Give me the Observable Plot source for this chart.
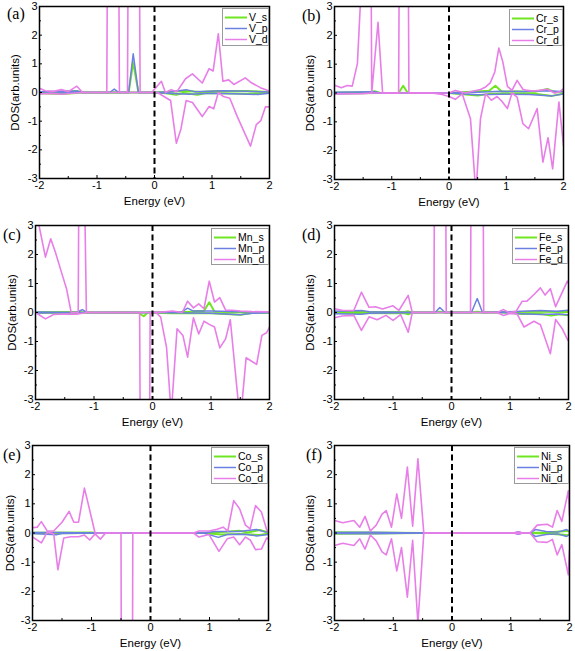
<!DOCTYPE html>
<html>
<head>
<meta charset="utf-8">
<script src="https://cdn.jsdelivr.net/npm/d3@7"></script>
<script src="https://cdn.jsdelivr.net/npm/@observablehq/plot@0.6"></script>
<style>
  html, body { margin: 0; padding: 0; background: #fff; }
  #wrap { position: relative; width: 575px; height: 651px; overflow: hidden; background: #fff; }
  .pnl { position: absolute; }
  .tag { position: absolute; font-family: "Liberation Serif", "Times New Roman", serif; font-size: 16px; color: #000; }
  .leg { position: absolute; box-sizing: border-box; border: 1px solid #9a9a9a; background: #fff;
         font-family: "Liberation Sans", Arial, sans-serif; font-size: 10.5px; color: #000; }
  .leg .row { position: absolute; left: 0; height: 11px; display: flex; align-items: center; white-space: nowrap; }
  .leg svg { display: block; }
  .leg span { margin-left: 1px; line-height: 11px; }
</style>
</head>
<body>
<div id="wrap"></div>
<script>
// ---------------- data (energy in eV, DOS in arb. units) ----------------
const xTicks = [-2, -1, 0, 1, 2];
const xMinor = [-1.5, -0.5, 0.5, 1.5];
const yTicks = [-3, -2, -1, 0, 1, 2, 3];
const yMinor = [-2.5, -1.5, -0.5, 0.5, 1.5, 2.5];
const panelTags = ["(a)", "(b)", "(c)", "(d)", "(e)", "(f)"];
const elements = ["V", "Cr", "Mn", "Fe", "Co", "Ni"];
const orbitals = ["s", "p", "d"];

// (a) V
const V_s_up = [[-2,0.02],[-1.6,0.03],[-1.35,0.05],[-1.25,0],[-0.45,0],[-0.37,1.05],[-0.28,0],[0,0],[0.55,0.05],[0.8,0.02],[1.1,0.05],[1.6,0.05],[2,0.02]];
const V_s_dn = [[-2,-0.03],[-1.6,-0.05],[-1.25,0],[0,0],[0.2,-0.03],[0.38,-0.08],[0.5,-0.02],[0.75,-0.08],[0.9,-0.02],[1.6,-0.04],[2,-0.02]];
const V_p_up = [[-2,0.03],[-1.35,0.05],[-1.25,0],[-0.78,0],[-0.7,0.12],[-0.62,0],[-0.45,0],[-0.37,1.35],[-0.28,0],[0,0],[0.3,0.03],[0.55,0.1],[0.7,0.03],[1.2,0.06],[1.6,0.04],[2,0.02]];
const V_p_dn = [[-2,-0.03],[-1.25,0],[0,0],[0.4,-0.04],[0.6,-0.06],[1.0,-0.03],[1.5,-0.05],[1.8,-0.07],[2,-0.02]];
const V_d_up = [[-2,0.15],[-1.9,0.06],[-1.75,0.04],[-1.62,0.1],[-1.5,0.03],[-1.35,0.22],[-1.25,0],[-0.83,0],[-0.81,8],[-0.63,8],[-0.61,0],[-0.47,0],[-0.45,8],[-0.27,8],[-0.25,0],[-0.05,0],[0.12,0.39],[0.19,0],[0.29,0.1],[0.39,0.03],[0.54,0.48],[0.66,0.65],[0.83,0.33],[0.95,0.83],[1.02,0.75],[1.11,2.05],[1.19,0.39],[1.29,0.44],[1.38,0.28],[1.58,0.51],[1.67,0.36],[1.84,0.17],[2,0.05]];
const V_d_dn = [[-2,-0.05],[-1.8,-0.03],[-1.6,-0.06],[-1.4,-0.02],[-1.25,0],[0.05,0],[0.28,-0.28],[0.38,-1.77],[0.46,-1.27],[0.55,-0.28],[0.66,-0.35],[0.83,-0.84],[0.95,-0.49],[1.03,-0.57],[1.11,0],[1.2,-0.14],[1.31,-0.2],[1.44,-0.84],[1.67,-1.87],[1.77,-1.12],[1.85,-0.98],[1.93,-0.5],[2,-0.5]];

// (b) Cr
const Cr_s_up = [[-2,0.02],[-1.4,0.02],[-1.3,0.06],[-1.2,0],[-0.88,0],[-0.8,0.25],[-0.72,0],[0,0],[0.4,0.04],[0.7,0.08],[0.81,0.25],[0.92,0.05],[1.2,0.05],[1.5,0.04],[1.72,0.14],[1.85,0.02],[2,0.05]];
const Cr_s_dn = [[-2,-0.02],[-1.2,0],[0,0],[0.3,-0.05],[0.5,-0.09],[0.7,-0.03],[1.0,-0.02],[1.5,-0.03],[1.8,-0.1],[2,-0.02]];
const Cr_p_up = [[-2,0.03],[-1.3,0.04],[-1.2,0],[0,0],[0.5,0.03],[0.9,0.06],[1.3,0.05],[1.75,0.08],[2,0.04]];
const Cr_p_dn = [[-2,-0.03],[-1.2,0],[0,0],[0.5,-0.06],[0.9,-0.04],[1.4,-0.05],[1.8,-0.1],[2,-0.03]];
const Cr_d_up = [[-2,0.27],[-1.88,0.18],[-1.78,0.26],[-1.69,0.24],[-1.6,1.02],[-1.5,5],[-1.37,8],[-1.35,0],[-1.24,2.45],[-1.16,0],[-0.88,0],[-0.86,8],[-0.72,8],[-0.7,0],[0,0],[0.11,0.09],[0.29,0],[0.43,0.07],[0.55,0.12],[0.64,0.21],[0.72,0.35],[0.8,0.73],[0.87,1.56],[0.94,1.08],[1.02,0.23],[1.1,0.09],[1.19,0.44],[1.29,0.13],[1.37,0.09],[1.47,0.07],[1.58,0.09],[1.72,0.13],[1.84,0],[1.93,0.04],[2,0.15]];
const Cr_d_dn = [[-2,-0.03],[-1.5,-0.02],[-1.35,0],[-0.3,0],[-0.12,-0.05],[0,-0.12],[0.11,-0.22],[0.23,-0.03],[0.375,-0.89],[0.47,-3.5],[0.55,-0.89],[0.64,-0.03],[0.74,-0.25],[0.84,-0.12],[0.93,-0.3],[1.02,-0.54],[1.1,0],[1.19,-0.14],[1.29,-1.06],[1.39,-1.24],[1.54,-0.54],[1.64,-2.4],[1.73,-1.55],[1.81,-2.63],[1.92,-0.31],[2,-1.82]];

// (c) Mn
const Mn_s_up = [[-2,0.01],[-1.3,0.02],[-1.12,0],[0,0],[0.5,0.02],[0.6,0.02],[0.75,0.05],[0.88,0.05],[0.97,0.35],[1.06,0.03],[1.4,0.02],[2,0.01]];
const Mn_s_dn = [[-2,-0.01],[-0.25,0],[-0.15,-0.13],[-0.08,0],[0,0],[0.3,-0.03],[0.5,-0.02],[1.0,-0.03],[1.5,-0.08],[1.7,-0.02],[2,-0.01]];
const Mn_p_up = [[-2,0.02],[-1.3,0],[-1.2,0.1],[-1.12,0],[0,0],[0.5,0.02],[0.6,0.15],[0.7,0.05],[1.0,0.05],[1.5,0.03],[2,0.01]];
const Mn_p_dn = [[-2,-0.02],[-1.12,0],[0,0],[0.6,-0.02],[1.0,-0.03],[1.5,-0.08],[1.7,-0.03],[2,-0.01]];
const Mn_d_up = [[-2,3.6],[-1.83,1.91],[-1.74,2.54],[-1.66,2.08],[-1.54,1.28],[-1.47,0.82],[-1.39,0],[-1.27,0],[-1.25,8],[-1.19,8],[-1.13,0],[0,0],[0.2,0.02],[0.34,0.05],[0.51,0],[0.6,0.39],[0.7,0.16],[0.79,0.3],[0.88,0.13],[0.97,1.08],[1.06,0.36],[1.15,0.51],[1.25,0.08],[1.36,0.08],[1.5,0.05],[1.7,0.03],[2,0.02]];
const Mn_d_dn = [[-2,0],[-1.83,-0.22],[-1.69,-0.07],[-1.5,-0.05],[-1.3,-0.06],[-1.12,0],[-0.22,0],[-0.2,-8],[-0.06,-8],[-0.04,0],[0.06,0],[0.14,-0.16],[0.24,-1.2],[0.32,-3.5],[0.42,-0.56],[0.52,-0.79],[0.6,-1.54],[0.7,-0.18],[0.79,-0.74],[0.88,-0.3],[0.97,-0.41],[1.06,-0.5],[1.15,-1.22],[1.25,-0.91],[1.33,-0.25],[1.5,-3.8],[1.6,-1.56],[1.78,-1.79],[1.87,-0.79],[1.95,-0.7],[2,-0.5]];

// (d) Fe
const Fe_s_up = [[-2,0.02],[-0.8,0.02],[-0.74,0.04],[-0.67,0],[-0.28,0],[-0.2,0.03],[-0.1,0],[0.34,0],[0.44,0.03],[0.53,0],[1.0,0.02],[1.5,0.03],[2,0.02]];
const Fe_s_dn = [[-2,-0.02],[-0.8,-0.03],[-0.74,-0.06],[-0.67,0],[0.9,0],[1.2,-0.05],[1.5,-0.04],[1.7,-0.1],[1.85,-0.06],[2,-0.1]];
const Fe_p_up = [[-2,0.04],[-1.54,0.07],[-1.4,0.03],[-0.67,0],[-0.28,0],[-0.2,0.17],[-0.11,0],[0.34,0],[0.44,0.48],[0.53,0],[0.9,0.02],[1.2,0.04],[1.52,0.07],[1.8,0.04],[2,0.08]];
const Fe_p_dn = [[-2,-0.04],[-1.54,-0.06],[-1.4,-0.03],[-0.67,0],[0.9,0],[1.2,-0.04],[1.52,-0.07],[1.8,-0.05],[2,-0.08]];
const Fe_d_up = [[-2,0.13],[-1.87,0.08],[-1.67,0.07],[-1.54,0.7],[-1.41,0.18],[-1.3,0.2],[-1.18,0.12],[-1.0,0.23],[-0.9,0.07],[-0.74,0.59],[-0.67,0],[-0.3,0],[-0.285,8],[-0.105,8],[-0.09,0],[0.325,0],[0.34,8],[0.535,8],[0.55,0],[0.78,0],[0.89,0.1],[0.98,0],[1.1,0.03],[1.21,0.39],[1.29,0.39],[1.41,0.62],[1.52,0.85],[1.6,0.6],[1.69,0.82],[1.78,0.2],[1.98,1.08],[2,1.0]];
const Fe_d_dn = [[-2,-0.18],[-1.87,-0.12],[-1.67,-0.1],[-1.54,-0.62],[-1.41,-0.15],[-1.27,-0.25],[-1.12,-0.1],[-1.0,-0.27],[-0.87,-0.07],[-0.74,-0.68],[-0.67,0],[0.78,0],[0.89,-0.1],[1.0,-0.03],[1.12,-0.05],[1.24,-0.5],[1.41,-0.3],[1.52,-0.42],[1.69,-1.42],[1.78,-0.24],[1.89,-0.55],[1.99,-0.96],[2,-0.9]];

// (e) Co
const Co_s_up = [[-2,0.01],[-1,0.02],[-0.9,0],[0.9,0],[1.2,0.03],[1.5,0.08],[1.65,0.02],[1.85,0.1],[2,0.02]];
const Co_s_dn = [[-2,-0.01],[-0.9,0],[0.9,0],[1.2,-0.05],[1.5,-0.03],[1.7,-0.05],[1.85,-0.07],[2,-0.02]];
const Co_p_up = [[-2,0.02],[-1.6,0.02],[-0.9,0],[0.9,0],[1.1,0.05],[1.5,0.05],[1.8,0.12],[1.95,0.03],[2,0.05]];
const Co_p_dn = [[-2,-0.02],[-1.6,-0.06],[-1.5,-0.02],[-0.9,0],[0.9,0],[1.15,-0.15],[1.3,-0.05],[1.6,-0.04],[1.8,-0.1],[2,-0.05]];
const Co_d_up = [[-2,0.18],[-1.92,0.2],[-1.85,0.39],[-1.75,0.07],[-1.64,0.07],[-1.5,0.37],[-1.38,0.74],[-1.3,0.37],[-1.22,0.37],[-1.12,1.54],[-1.03,0.78],[-0.94,0],[0.73,0],[0.82,0.07],[0.99,0.07],[1.13,0.13],[1.23,0.2],[1.31,0.07],[1.41,1.11],[1.51,0.83],[1.61,0.27],[1.69,0.14],[1.78,0.94],[1.88,0.72],[1.97,0.1],[2,0.02]];
const Co_d_dn = [[-2,-0.13],[-1.85,-0.34],[-1.75,0.03],[-1.64,-0.03],[-1.57,-1.26],[-1.47,-0.17],[-1.35,-0.13],[-1.22,-0.13],[-1.12,-0.07],[-1.03,-0.24],[-0.94,-0.03],[-0.85,-0.21],[-0.76,0],[-0.5,0],[-0.49,-8],[-0.31,-8],[-0.3,0],[0.73,0],[0.82,-0.14],[0.99,-0.05],[1.16,-0.63],[1.3,-0.2],[1.41,-0.14],[1.51,-0.4],[1.61,-0.14],[1.69,-0.24],[1.78,-0.57],[1.88,-0.55],[1.97,-0.17],[2,-0.2]];

// (f) Ni
const Ni_s_up = [[-2,0.03],[-1.5,0.02],[-0.5,0],[1.3,0],[1.6,0.02],[1.9,0.06],[1.97,0.08],[2,0.03]];
const Ni_s_dn = [[-2,-0.03],[-1.5,-0.02],[-0.5,0],[1.3,0],[1.6,-0.02],[1.9,-0.06],[1.97,-0.08],[2,-0.03]];
const Ni_p_up = [[-2,0.02],[-1.4,0.03],[-0.5,0],[1.05,0],[1.13,0.04],[1.2,0],[1.33,0],[1.42,0.12],[1.6,0.05],[1.8,0.03],[1.95,0.12],[2,0.05]];
const Ni_p_dn = [[-2,-0.02],[-1.4,-0.03],[-0.5,0],[1.05,0],[1.13,-0.04],[1.2,0],[1.33,0],[1.42,-0.12],[1.6,-0.05],[1.8,-0.03],[1.95,-0.12],[2,-0.05]];
const Ni_d_up = [[-2,0.43],[-1.86,0.35],[-1.67,0.43],[-1.57,0.2],[-1.48,0.57],[-1.39,0.07],[-1.29,0.27],[-1.19,0.65],[-1.12,0.77],[-1.03,0.2],[-0.94,1.34],[-0.86,0.5],[-0.76,2.26],[-0.67,0.23],[-0.58,2.54],[-0.48,0],[1.05,0],[1.13,0.03],[1.2,0],[1.33,0],[1.45,0.27],[1.62,0.3],[1.71,0.2],[1.79,0.77],[1.87,0.4],[1.98,1.45],[2,0.6]];
const Ni_d_dn = [[-2,-0.43],[-1.86,-0.35],[-1.67,-0.43],[-1.57,-0.2],[-1.48,-0.55],[-1.39,-0.07],[-1.29,-0.27],[-1.19,-0.65],[-1.12,-0.75],[-1.03,-0.2],[-0.94,-1.3],[-0.86,-0.5],[-0.76,-2.2],[-0.67,-0.25],[-0.58,-3.1],[-0.48,0],[1.05,0],[1.13,-0.03],[1.2,0],[1.33,0],[1.45,-0.3],[1.62,-0.32],[1.71,-0.22],[1.79,-0.75],[1.87,-0.4],[1.98,-1.43],[2,-0.6]];

const seriesByPanel = [
  {s: [V_s_up, V_s_dn], p: [V_p_up, V_p_dn], d: [V_d_up, V_d_dn]},
  {s: [Cr_s_up, Cr_s_dn], p: [Cr_p_up, Cr_p_dn], d: [Cr_d_up, Cr_d_dn]},
  {s: [Mn_s_up, Mn_s_dn], p: [Mn_p_up, Mn_p_dn], d: [Mn_d_up, Mn_d_dn]},
  {s: [Fe_s_up, Fe_s_dn], p: [Fe_p_up, Fe_p_dn], d: [Fe_d_up, Fe_d_dn]},
  {s: [Co_s_up, Co_s_dn], p: [Co_p_up, Co_p_dn], d: [Co_d_up, Co_d_dn]},
  {s: [Ni_s_up, Ni_s_dn], p: [Ni_p_up, Ni_p_dn], d: [Ni_d_up, Ni_d_dn]}
];

// ---------------- styles & layout ----------------
const COLORS = {s: "#70e622", p: "#6b80e0", d: "#e87ee8"};
const WIDTHS = {s: 2, p: 1.5, d: 1.6};
const LEGEND_W = {s: 2, p: 1.5, d: 1.5};
const FONT = "'Liberation Sans', Arial, Helvetica, sans-serif";

// box: [left, top, width, height], margins: [top, right, bottom, left]
const layout = [
  {box: [0, 0, 285, 215],   m: [6, 16, 37, 39],  ylab: 24, tag: [7, 5],     leg: [222, 8, 47, 38]},
  {box: [285, 0, 290, 215], m: [6, 12, 36, 49],  ylab: 24, tag: [302, 7],   leg: [509, 9, 54, 37]},
  {box: [0, 215, 285, 220], m: [10, 16, 36, 35], ylab: 23, tag: [3, 226],   leg: [211, 228, 58, 37]},
  {box: [285, 215, 290, 220], m: [10, 7, 36, 49], ylab: 24, tag: [302, 226], leg: [512, 228, 56, 36]},
  {box: [0, 435, 285, 216], m: [10, 17, 31, 32], ylab: 22, tag: [3, 446],   leg: [211, 447, 57, 37]},
  {box: [285, 435, 290, 216], m: [10, 6, 31, 49], ylab: 24, tag: [306, 446], leg: [514, 447, 55, 37]}
];

const wrap = document.getElementById("wrap");

layout.forEach((L, i) => {
  const [left, top, width, height] = L.box;
  const [mt, mr, mb, ml] = L.m;
  const pw = width - ml - mr, ph = height - mt - mb;
  const S = seriesByPanel[i];
  const lineMarks = [];
  for (const o of orbitals) {
    for (const arr of S[o]) {
      lineMarks.push(Plot.line(arr, {x: d => d[0], y: d => d[1], stroke: COLORS[o], strokeWidth: WIDTHS[o], clip: true}));
    }
  }
  const chart = Plot.plot({
    width, height,
    marginTop: mt, marginRight: mr, marginBottom: mb, marginLeft: ml,
    x: {domain: [-2, 2]},
    y: {domain: [-3, 3]},
    style: {fontFamily: FONT, fontSize: "11px", color: "#000", background: "transparent", overflow: "visible"},
    marks: [
      ...lineMarks,
      Plot.ruleX([0], {stroke: "#000", strokeWidth: 2, strokeDasharray: "6,3.5"}),
      Plot.tickX(xTicks, {x: d => d, insetTop: ph - 3, stroke: "#000", strokeWidth: 1}),
      Plot.tickX(xMinor, {x: d => d, insetTop: ph - 2, stroke: "#000", strokeWidth: 1}),
      Plot.tickY(yTicks, {y: d => d, insetRight: pw - 3, stroke: "#000", strokeWidth: 1}),
      Plot.tickY(yMinor, {y: d => d, insetRight: pw - 2, stroke: "#000", strokeWidth: 1}),
      Plot.axisX({ticks: xTicks, tickSize: 0, tickPadding: 3, tickFormat: d => String(d), label: null, fontSize: 11}),
      Plot.axisY({ticks: yTicks, tickSize: 0, tickPadding: 2, tickFormat: d => String(d), label: null, fontSize: 11}),
      Plot.text(["Energy (eV)"], {frameAnchor: "bottom", dy: 23, textAnchor: "middle", lineAnchor: "middle", fontSize: 11.5}),
      Plot.text(["DOS(arb.units)"], {frameAnchor: "left", dx: -L.ylab, rotate: -90, textAnchor: "middle", lineAnchor: "middle", fontSize: 11.5}),
      Plot.frame({stroke: "#000", strokeWidth: 1.5})
    ]
  });
  const holder = document.createElement("div");
  holder.className = "pnl";
  holder.style.left = left + "px";
  holder.style.top = top + "px";
  holder.appendChild(chart);
  wrap.appendChild(holder);

  // panel tag
  const tag = document.createElement("div");
  tag.className = "tag";
  tag.style.left = L.tag[0] + "px";
  tag.style.top = L.tag[1] + "px";
  tag.textContent = panelTags[i];
  wrap.appendChild(tag);

  // legend
  const [lx, ly, lw, lh] = L.leg;
  const leg = document.createElement("div");
  leg.className = "leg";
  leg.style.left = lx + "px";
  leg.style.top = ly + "px";
  leg.style.width = lw + "px";
  leg.style.height = lh + "px";
  orbitals.forEach((o, k) => {
    const row = document.createElement("div");
    row.className = "row";
    row.style.top = (3 + k * 11) + "px";
    row.innerHTML = `<svg width="25" height="11"><line x1="2" x2="24" y1="5.5" y2="5.5" stroke="${COLORS[o]}" stroke-width="${LEGEND_W[o]}"/></svg><span>${elements[i]}_${o}</span>`;
    leg.appendChild(row);
  });
  wrap.appendChild(leg);
});
</script>
</body>
</html>
